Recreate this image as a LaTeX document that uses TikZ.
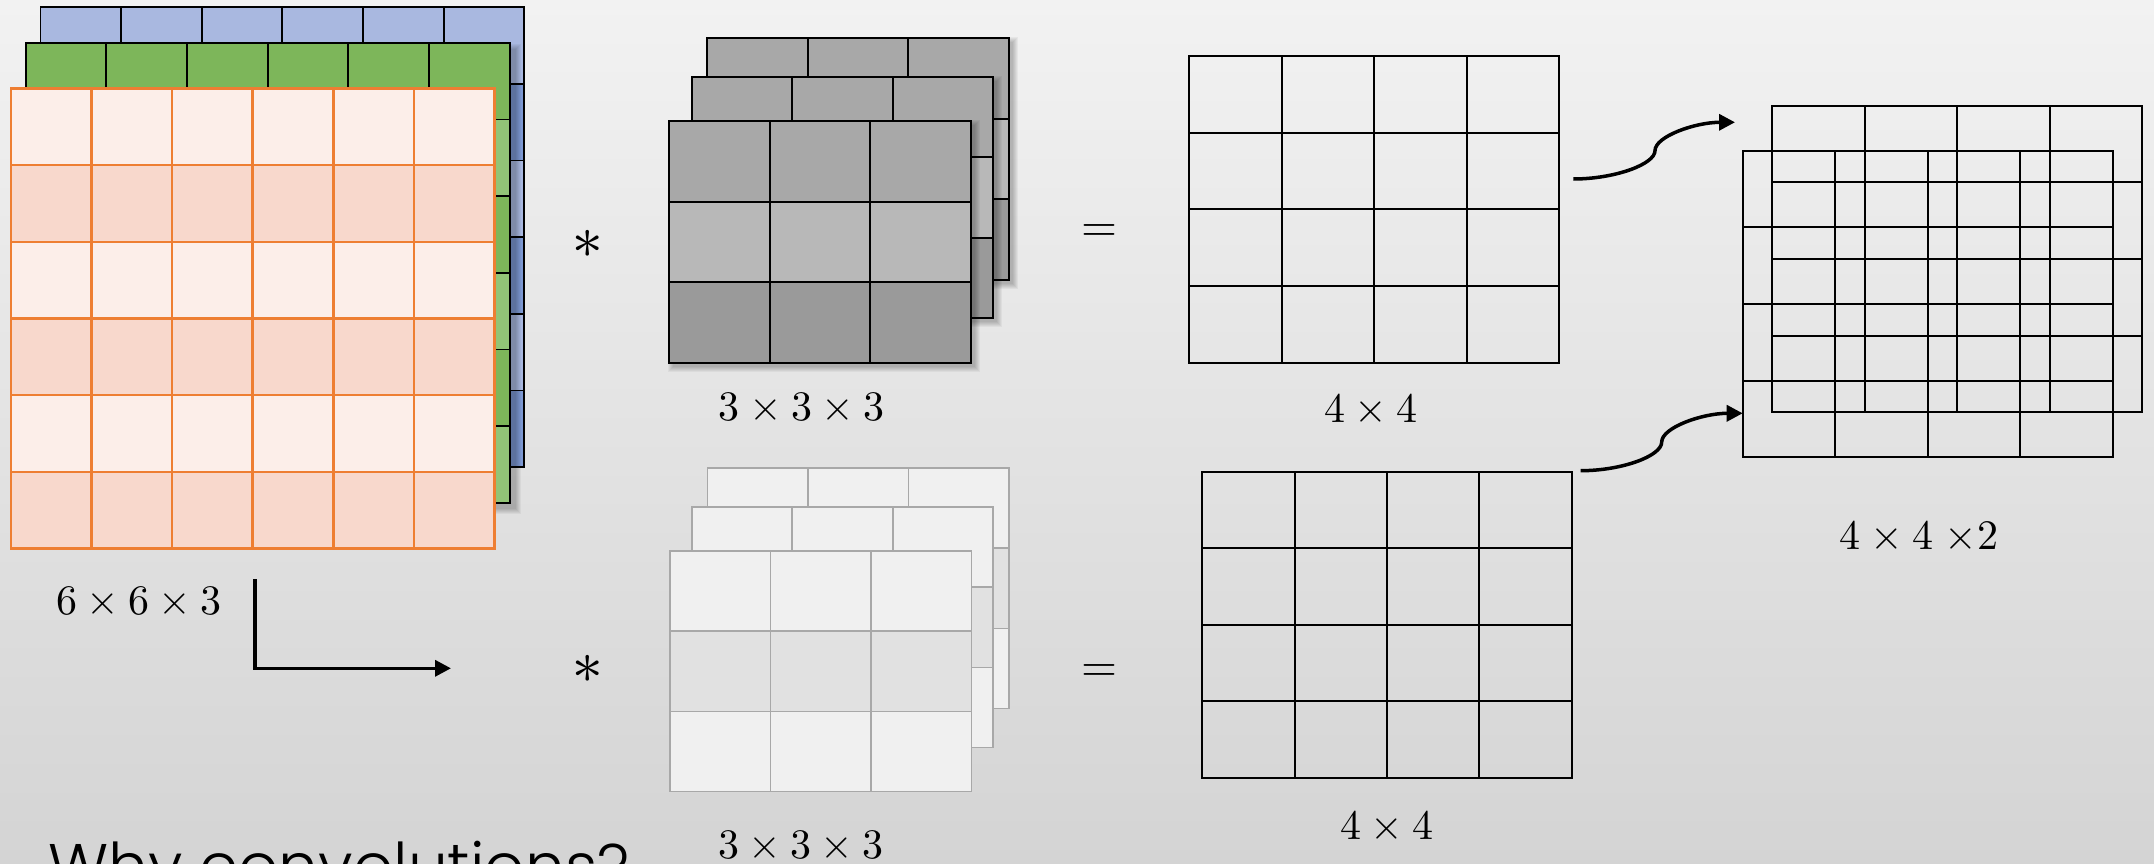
\documentclass[tikz,border=0pt]{standalone}
\usepackage{fontspec}
\usepackage{unicode-math}
\setmathfont{Latin Modern Math}
\newfontfamily\titlefont{Poppins Light}
\usetikzlibrary{arrows.meta}

\definecolor{bgtop}{HTML}{F2F2F2}
\definecolor{bgbot}{HTML}{D4D4D4}
\definecolor{blueA}{HTML}{A9B8E0}
\definecolor{blueB}{HTML}{7D98D2}
\definecolor{greenA}{HTML}{7DB65A}
\definecolor{greenB}{HTML}{92C477}
\definecolor{orA}{HTML}{FCEEE9}
\definecolor{orB}{HTML}{F8D8CC}
\definecolor{orLine}{HTML}{EE7E32}
\definecolor{gA}{HTML}{A8A8A8}
\definecolor{gB}{HTML}{B8B8B8}
\definecolor{gC}{HTML}{9A9A9A}
\definecolor{lgA}{HTML}{F0F0F0}
\definecolor{lgB}{HTML}{E1E1E1}
\definecolor{lgLine}{HTML}{A8A8A8}

% #1 name, #2 x, #3 y, #4 cols, #5 rows, #6 cell w, #7 cell h, #8 row colours, #9 line style
\newcommand\gridlayer[9]{%
  \begin{scope}[shift={(#2,#3)}]
    \pgfmathtruncatemacro\lastc{#4-1}%
    \pgfmathtruncatemacro\lastr{#5-1}%
    \pgfmathsetmacro\gW{#4*#6}%
    \pgfmathsetmacro\gH{#5*#7}%
    \foreach \c [count=\r from 0] in {#8}
      \path[fill=\c] (0,\r*#7) rectangle (\gW,\r*#7+#7);
    \foreach \i in {1,...,\lastc}
      \draw[#9] (\i*#6,0) -- (\i*#6,\gH);
    \foreach \j in {1,...,\lastr}
      \draw[#9] (0,\j*#7) -- (\gW,\j*#7);
    \node[draw,#9,inner sep=0pt,outer sep=0pt,minimum width=\gW pt,
          minimum height=\gH pt,anchor=north west] (#1) at (0,0) {};
  \end{scope}%
}
% soft shadow: #1 x, #2 y, #3 W, #4 H, #5 offset
\newcommand\softshadow[5]{%
  \foreach \k in {0,...,5}
    \fill[black,opacity=0.045] (#1+#5-\k,#2+#5-\k) rectangle (#1+#3+#5+\k,#2+#4+#5+\k);
}

\tikzset{
  lbl/.style={inner sep=0pt, font=\fontsize{42}{50}\selectfont},
  conn/.style={line width=3.5pt, -{Triangle[length=16pt,width=16pt]}},
}

\begin{document}
\begin{tikzpicture}[x=1pt,y=-1pt]
\useasboundingbox (0,0) rectangle (2154,864);
\clip (0,0) rectangle (2154,864);
\shade[top color=bgtop, bottom color=bgbot] (0,0) rectangle (2154,864);

% ---------- input volume 6x6x3 ----------
\gridlayer{inB}{40.4}{7.1}{6}{6}{80.65}{76.67}{blueA,blueB,blueA,blueB,blueA,blueB}{line width=1.8pt}
\softshadow{25.7}{42.9}{483.9}{460}{6}
\gridlayer{inG}{25.7}{42.9}{6}{6}{80.65}{76.67}{greenA,greenB,greenA,greenB,greenA,greenB}{line width=1.8pt}
\gridlayer{inR}{10.7}{88.6}{6}{6}{80.65}{76.67}{orA,orB,orA,orB,orA,orB}{draw=orLine,line width=2.4pt}
\node[lbl] (lblIn) at (139,601) {$6\times6\times3$};

% ---------- filter 1 (dark) ----------
\softshadow{707.3}{38.3}{301.5}{241.5}{4}
\gridlayer{f1c}{707.3}{38.3}{3}{3}{100.5}{80.5}{gA,gB,gC}{line width=2.2pt}
\softshadow{691.7}{76.7}{301.5}{241.5}{4}
\gridlayer{f1b}{691.7}{76.7}{3}{3}{100.5}{80.5}{gA,gB,gC}{line width=2.2pt}
\softshadow{669.3}{121.3}{301.5}{241.5}{4}
\gridlayer{f1a}{669.3}{121.3}{3}{3}{100.5}{80.5}{gA,gB,gC}{line width=2.2pt}
\node[lbl] (lblF1) at (801.7,406.7) {$3\times3\times3$};

% ---------- filter 2 (light) ----------
\gridlayer{f2c}{707.3}{467.7}{3}{3}{100.5}{80.3}{lgA,lgB,lgA}{draw=lgLine,line width=1.6pt}
\gridlayer{f2b}{691.7}{506.7}{3}{3}{100.5}{80.3}{lgA,lgB,lgA}{draw=lgLine,line width=1.6pt}
\gridlayer{f2a}{670}{550.7}{3}{3}{100.5}{80.3}{lgA,lgB,lgA}{draw=lgLine,line width=1.6pt}
\node[lbl] (lblF2) at (801,845) {$3\times3\times3$};

% ---------- operators ----------
\node[lbl] (star1) at (588,244.5) {\scalebox{1.45}{$\ast$}};
\node[lbl] (star2) at (588,669) {\scalebox{1.45}{$\ast$}};
\node[lbl] (eq1) at (1099,233.5) {\scalebox{1.1}{$=$}};
\node[lbl] (eq2) at (1099,673) {\scalebox{1.1}{$=$}};

% ---------- outputs 4x4 ----------
\gridlayer{out1}{1189.3}{56}{4}{4}{92.5}{76.67}{none,none,none,none}{line width=2pt}
\node[lbl] (lblO1) at (1371,408.3) {$4\times4$};
\gridlayer{out2}{1202.3}{471.7}{4}{4}{92.35}{76.5}{none,none,none,none}{line width=2pt}
\node[lbl] (lblO2) at (1386.7,825) {$4\times4$};

% ---------- stacked output 4x4x2 ----------
\gridlayer{stB}{1772.3}{105.7}{4}{4}{92.45}{76.65}{none,none,none,none}{line width=2pt}
\gridlayer{stA}{1742.7}{150.7}{4}{4}{92.45}{76.65}{none,none,none,none}{line width=2pt}
\node[lbl] (lblSt) at (1919,535) {$4\times4\;{\times}2$};

% ---------- connectors ----------
\coordinate (a1s) at (1573.3,179);
\coordinate (a1m) at (1655,150.6);
\coordinate (a1e) at (1735,122.3);
\draw[conn] (a1s) .. controls (1614,179) and (1655,164.5) .. (a1m)
                  .. controls (1655,136.5) and (1695,122.3) .. (a1e);
\coordinate (a2s) at (1580.7,470.7);
\coordinate (a2m) at (1661.7,442);
\coordinate (a2e) at (stA.west |- 0,413.3);
\draw[conn] (a2s) .. controls (1621,470.7) and (1661.7,456.3) .. (a2m)
                  .. controls (1661.7,427.6) and (1702,413.3) .. (a2e);
\coordinate (ls) at (255,579);
\coordinate (le) at (451,668.3);
\draw[conn] (ls) |- (le);

% ---------- title ----------
\node[inner sep=0pt, anchor=base west, font=\titlefont\fontsize{63}{70}\selectfont] (title) at (48,888) {Why convolutions?};
\end{tikzpicture}
\end{document}
